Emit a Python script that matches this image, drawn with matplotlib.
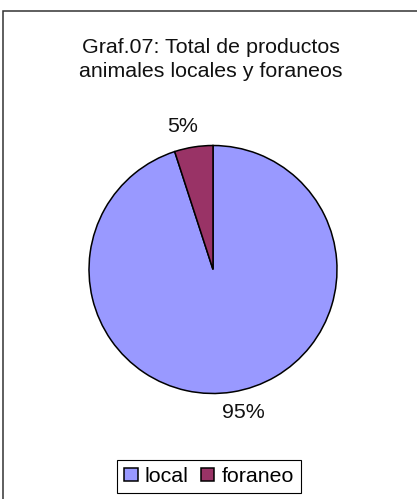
import matplotlib
matplotlib.use("Agg")
import matplotlib.pyplot as plt
from matplotlib.patches import Rectangle

# data
categories = ["local", "foraneo"]
values = [95, 5]
colors = ["#9999FF", "#993366"]
title = "Graf.07: Total de productos\nanimales locales y foraneos"

plt.rcParams["font.family"] = ["Liberation Sans", "DejaVu Sans"]
W, H = 417, 499
fs = 15.4
fig = plt.figure(figsize=(W / 100, H / 100), dpi=100)

# outer chart frame (only left and top visible)
fig.patches.append(Rectangle((2.5 / W, -0.1), 1.2, 1 - 11.5 / H + 0.1,
                             transform=fig.transFigure, fill=False,
                             edgecolor="#333333", linewidth=1.1))

# pie axes
cx, cy, r = 213, 269.5, 124
ax = fig.add_axes([(cx - r) / W, (H - cy - r) / H, 2 * r / W, 2 * r / H])
wedges, texts, autotexts = ax.pie(values, colors=colors, startangle=90,
                                  counterclock=False, radius=1,
                                  autopct="%1.0f%%", pctdistance=1.17,
                                  wedgeprops=dict(edgecolor="black", linewidth=1.1),
                                  textprops=dict(fontsize=fs, color="#111111"))
ax.set_xlim(-1, 1)
ax.set_ylim(-1, 1)
ax.set_aspect("equal")
ax.axis("off")
for t in autotexts:
    x, y = t.get_position()
    t.set_position((x * 1.35, y))
    t.set_clip_on(False)

fig.text(211 / W, 1 - 59.5 / H, title, ha="center", va="center",
         fontsize=fs, color="#111111", linespacing=1.38)

leg = fig.legend(wedges, categories, loc="center", bbox_to_anchor=(209 / W, 1 - 476.5 / H),
                 ncol=2, fontsize=fs, frameon=True, fancybox=False, framealpha=1,
                 edgecolor="black", handlelength=0.62, handleheight=0.62,
                 handletextpad=0.35, columnspacing=0.55, borderpad=0.35,
                 borderaxespad=0)
leg.get_frame().set_linewidth(0.8)

fig.savefig("out.png", dpi=100)
